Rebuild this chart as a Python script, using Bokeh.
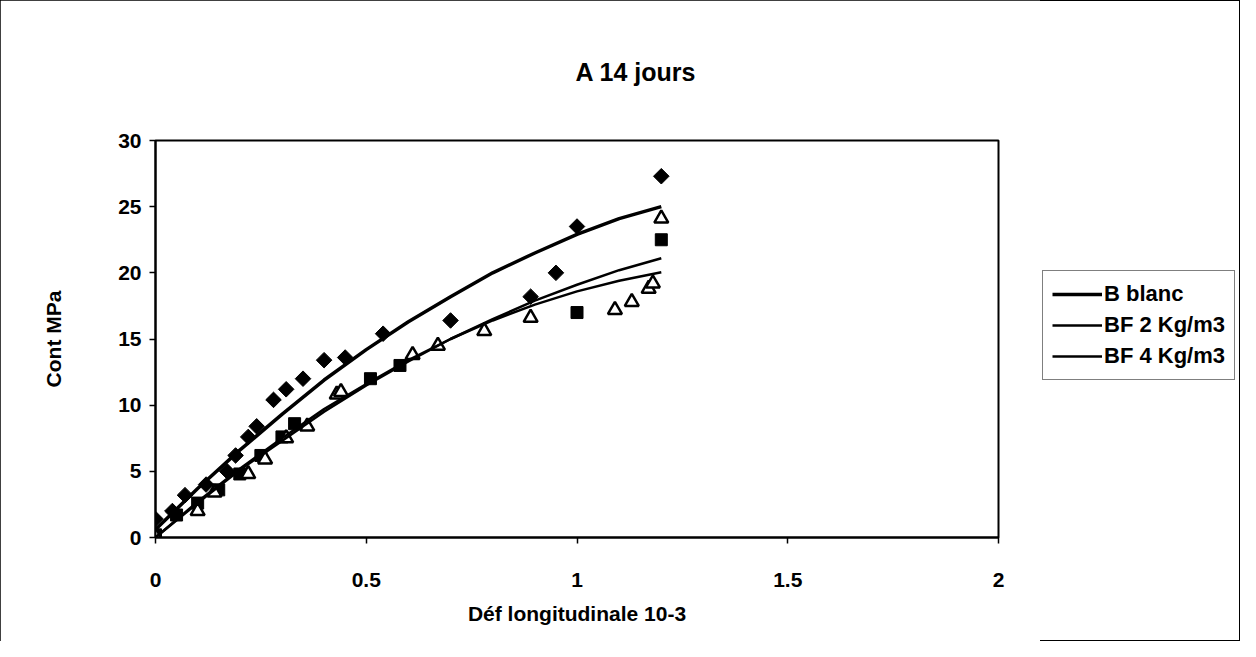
from bokeh.plotting import figure
from bokeh.models import Legend, LegendItem, FixedTicker
from bokeh.layouts import row
from bokeh.embed import file_html
from bokeh.resources import INLINE

# ---------------- data ----------------
title_text = "A 14 jours"
x_title = "Déf longitudinale 10-3"
y_title = "Cont MPa"
x_ticks = [0, 0.5, 1, 1.5, 2]
x_tick_labels = ["0", "0.5", "1", "1.5", "2"]
y_ticks = [0, 5, 10, 15, 20, 25, 30]
series_names = ["B blanc", "BF 2 Kg/m3", "BF 4 Kg/m3"]

# measured points
bb_x = [0.0, 0.04, 0.07, 0.12, 0.17, 0.19, 0.22, 0.24, 0.28, 0.31, 0.35, 0.40, 0.45, 0.54, 0.70, 0.89, 0.95, 1.00, 1.20]
bb_y = [1.4, 2.0, 3.2, 4.0, 5.0, 6.2, 7.6, 8.4, 10.4, 11.2, 12.0, 13.4, 13.6, 15.4, 16.4, 18.2, 20.0, 23.5, 27.3]

bf2_x = [0.0, 0.05, 0.10, 0.15, 0.20, 0.25, 0.30, 0.33, 0.51, 0.58, 1.00, 1.20]
bf2_y = [0.2, 1.7, 2.6, 3.6, 4.8, 6.2, 7.6, 8.6, 12.0, 13.0, 17.0, 22.5]

bf4_x = [0.0, 0.10, 0.14, 0.22, 0.26, 0.31, 0.36, 0.43, 0.44, 0.61, 0.67, 0.78, 0.89, 1.09, 1.13, 1.17, 1.18, 1.20]
bf4_y = [0.1, 2.0, 3.4, 4.8, 5.9, 7.5, 8.4, 10.8, 11.0, 13.8, 14.5, 15.6, 16.6, 17.2, 17.8, 18.8, 19.2, 24.1]

# trend curves
curve_x = [0.0, 0.1, 0.2, 0.3, 0.4, 0.5, 0.6, 0.7, 0.8, 0.9, 1.0, 1.1, 1.2]
bb_curve = [0.6, 3.7, 6.6, 9.3, 11.9, 14.2, 16.3, 18.2, 20.0, 21.5, 22.9, 24.1, 25.0]
bf2_curve = [0.0, 2.6, 5.1, 7.3, 9.5, 11.5, 13.3, 15.0, 16.5, 17.9, 19.1, 20.2, 21.1]
bf4_curve = [0.0, 2.7, 5.2, 7.5, 9.7, 11.6, 13.4, 15.0, 16.4, 17.6, 18.6, 19.4, 20.05]
curves = [bb_curve, bf2_curve, bf4_curve]

# ---------------- main figure ----------------
FONT = "Liberation Sans"
line_styles = [dict(line_color="black", line_width=3.5),
               dict(line_color="black", line_width=2.5),
               dict(line_color="black", line_width=2.5)]

p = figure(width=1040, height=641, x_range=(0, 2), y_range=(0, 30),
           output_backend="svg", toolbar_location=None,
           min_border_left=155, min_border_right=42,
           min_border_top=140, min_border_bottom=104)

p.background_fill_color = "white"
p.border_fill_color = "white"
p.outline_line_color = "black"
p.outline_line_width = 2
p.grid.visible = False

# title
p.title.text = title_text
p.title.align = "left"
p.title.offset = 420
p.title.standoff = 110
p.title.text_color = "black"
p.title.text_font = FONT
p.title.text_font_size = "25px"
p.title.text_font_style = "bold"

# axes
p.xaxis.ticker = FixedTicker(ticks=x_ticks)
p.xaxis.major_label_overrides = {t: l for t, l in zip(x_ticks, x_tick_labels)}
p.yaxis.ticker = FixedTicker(ticks=y_ticks)
p.xaxis.axis_label = x_title
p.yaxis.axis_label = y_title
for ax in (p.xaxis, p.yaxis):
    ax.axis_line_width = 2
    ax.axis_line_color = "black"
    ax.major_tick_line_color = "black"
    ax.major_tick_line_width = 1.5
    ax.major_tick_out = 6
    ax.major_tick_in = 0
    ax.minor_tick_line_color = None
    ax.major_label_text_font = FONT
    ax.major_label_text_font_size = "21px"
    ax.major_label_text_font_style = "bold"
    ax.major_label_text_color = "black"
    ax.axis_label_text_font = FONT
    ax.axis_label_text_font_size = "21px"
    ax.axis_label_text_font_style = "bold"
    ax.axis_label_text_color = "black"
p.xaxis.major_label_standoff = 29
p.xaxis.axis_label_standoff = 12
p.yaxis.major_label_standoff = 8
p.yaxis.axis_label_standoff = 50

# markers
p.scatter(bb_x, bb_y, marker="square", angle=0.785398, size=11,
          fill_color="black", line_color="black")
p.scatter(bf2_x, bf2_y, marker="square", size=12,
          fill_color="black", line_color="black")
p.scatter(bf4_x, bf4_y, marker="triangle", size=14,
          fill_color="white", line_color="black", line_width=2.5)

# trend lines
for c, st in zip(curves, line_styles):
    p.line(curve_x, c, **st)

# ---------------- legend panel (right of the chart) ----------------
# same curves, drawn out of this panel's visible range: only the legend shows
lg = figure(width=200, height=641, output_backend="svg", toolbar_location=None,
            x_axis_type=None, y_axis_type=None, min_border=0,
            x_range=(10, 11), y_range=(100, 101))
lg.outline_line_color = None
lg.grid.visible = False
lg.background_fill_color = None
lg.border_fill_color = None
swatches = [lg.line(curve_x, c, **st) for c, st in zip(curves, line_styles)]

legend = Legend(items=[LegendItem(label=n, renderers=[r]) for n, r in zip(series_names, swatches)],
                location=(2, 157))
legend.label_text_font = FONT
legend.label_text_font_size = "22px"
legend.label_text_font_style = "bold"
legend.label_text_color = "black"
legend.glyph_width = 50
legend.glyph_height = 28
legend.label_height = 28
legend.spacing = 3
legend.padding = 9
legend.margin = 0
legend.label_standoff = 2
legend.border_line_color = "black"
legend.border_line_width = 1.5
legend.background_fill_color = "white"
legend.background_fill_alpha = 1
lg.add_layout(legend)

layout = row(p, lg, spacing=0)
layout.styles = {"outline": "1px solid black", "outline-offset": "-1px"}

open("out.html", "w").write(file_html(layout, INLINE))
